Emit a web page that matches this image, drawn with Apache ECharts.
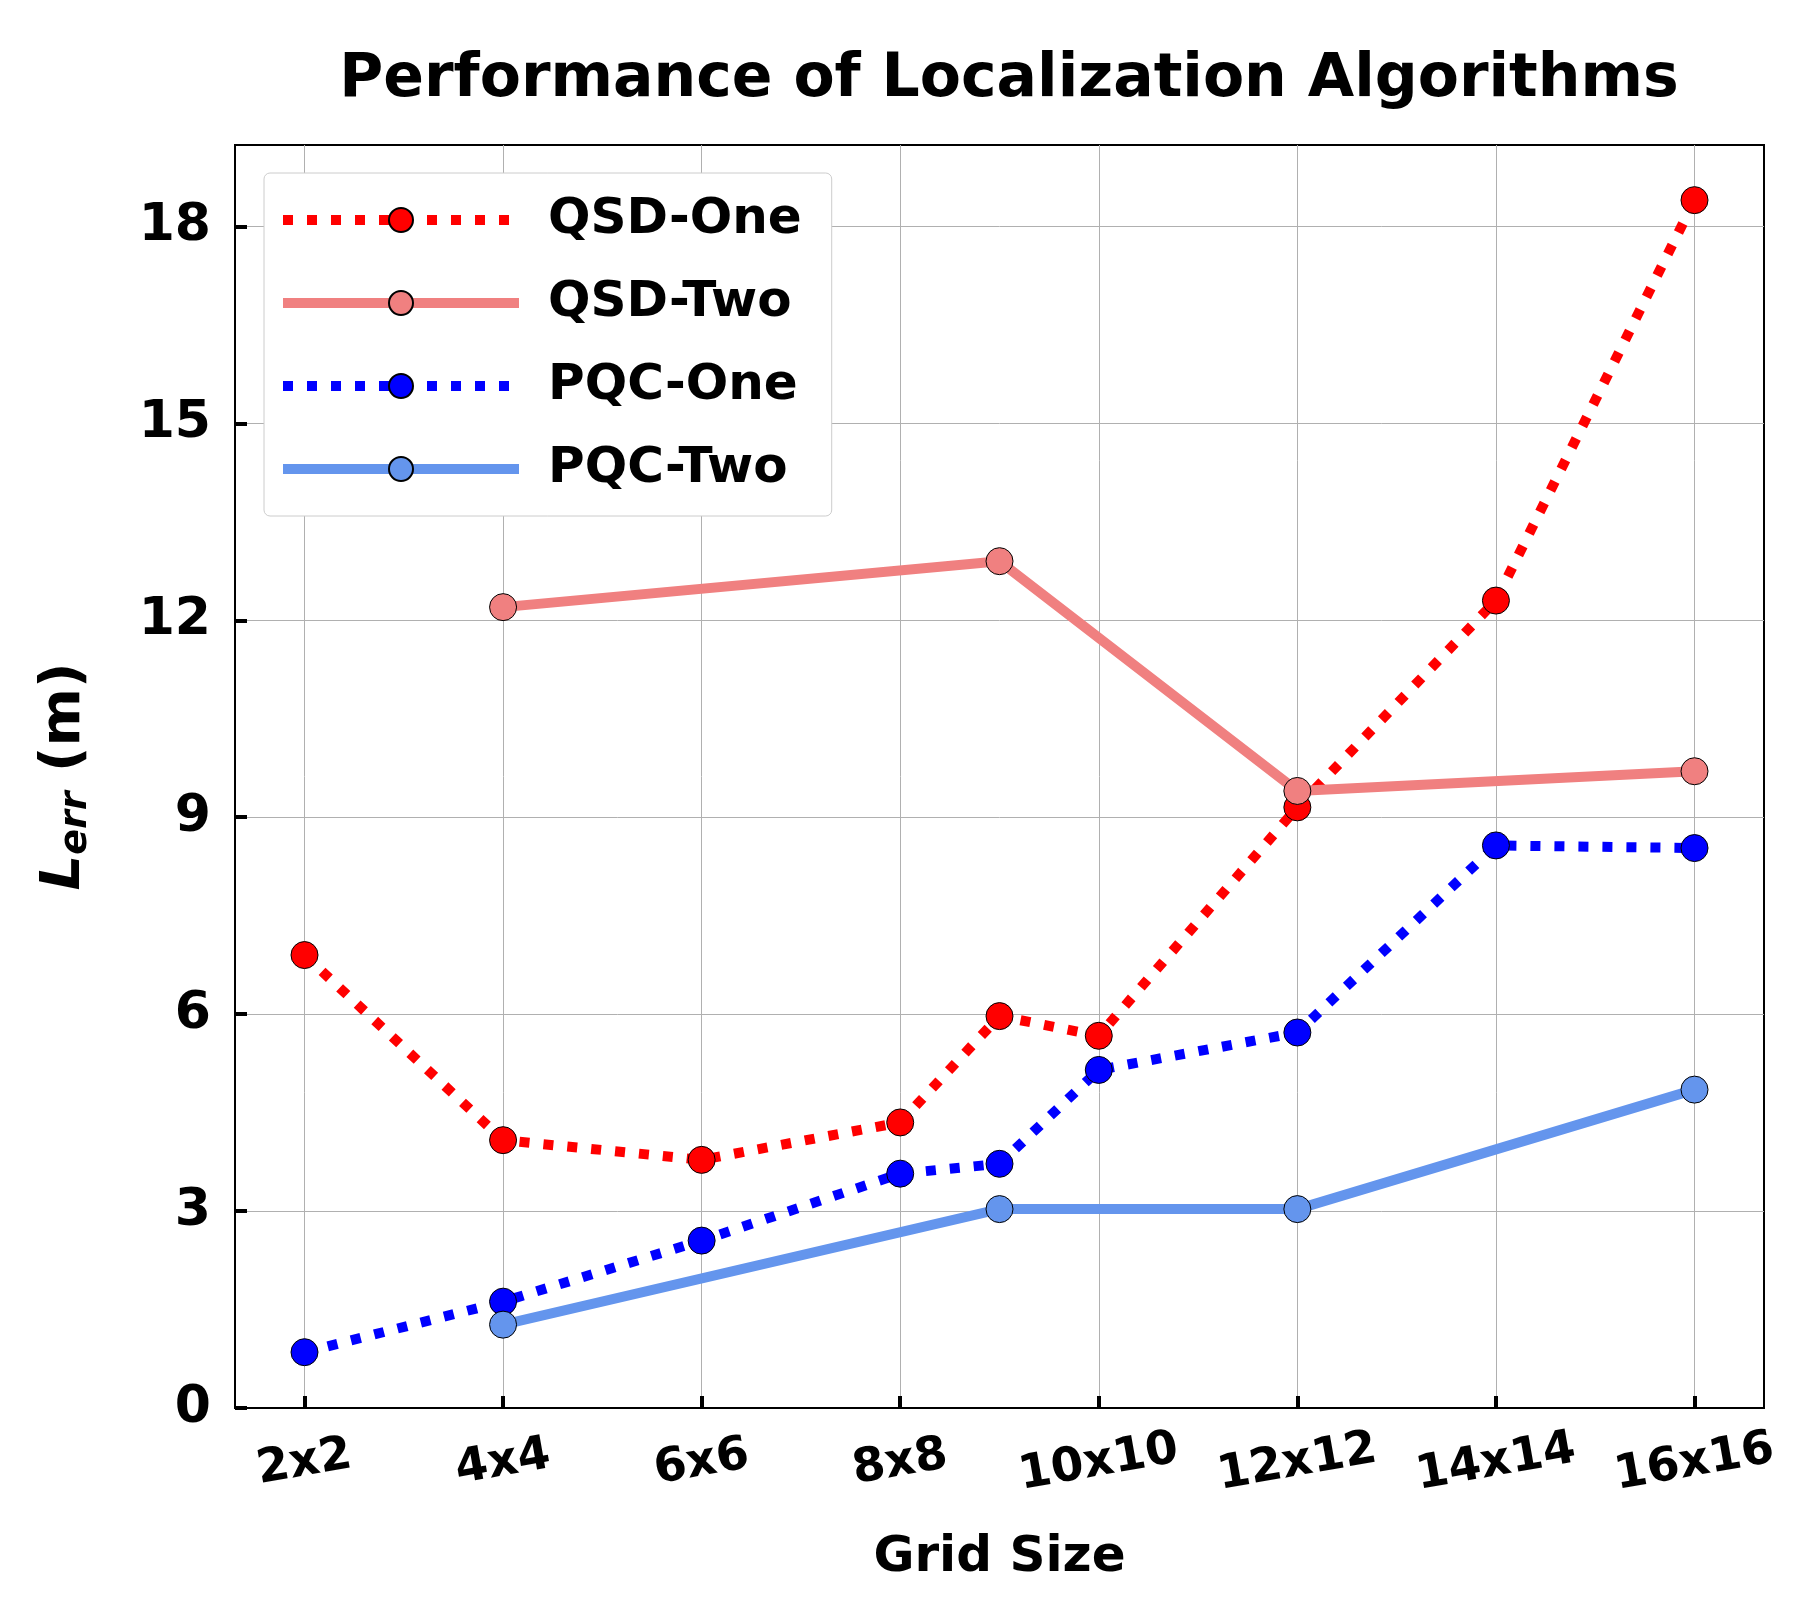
<!DOCTYPE html>
<html>
<head>
<meta charset="utf-8">
<script src="https://cdn.jsdelivr.net/npm/echarts@6/dist/echarts.min.js"></script>
<style>html,body{margin:0;background:#fff}#main{width:1800px;height:1600px}</style>
</head>
<body>
<div id="main"></div>
<script>
var gridSizes = [2, 4, 6, 8, 10, 12, 14, 16]
var qsdOneX = [2, 4, 6, 8, 9, 10, 12, 14, 16]
var qsdOneY = [6.9, 4.08, 3.78, 4.35, 5.97, 5.67, 9.15, 12.3, 18.4]
var qsdTwoX = [4, 9, 12, 16]
var qsdTwoY = [12.2, 12.9, 9.4, 9.7]
var pqcOneX = [2, 4, 6, 8, 9, 10, 12, 14, 16]
var pqcOneY = [0.85, 1.62, 2.55, 3.57, 3.72, 5.15, 5.72, 8.57, 8.53]
var pqcTwoX = [4, 9, 12, 16]
var pqcTwoY = [1.27, 3.03, 3.03, 4.85]
var yTicks = [0, 3, 6, 9, 12, 15, 18]

function pairs(xs, ys) { return xs.map(function (x, i) { return [x, ys[i]] }) }

var dotted = [10, 14]
function mk(name, xs, ys, color, solid) {
    return {
        name: name, type: 'line', data: pairs(xs, ys),
        symbol: 'circle', symbolSize: 27,
        lineStyle: { color: color, width: 10, type: solid ? 'solid' : dotted },
        itemStyle: { color: color, borderColor: '#000', borderWidth: 1 },
        z: 3
    }
}

var myChart = echarts.init(document.getElementById('main'))
var font = 'DejaVu Sans'
var option = {
    animation: false,
    title: {
        text: 'Performance of Localization Algorithms', left: 1004, top: 45, textAlign: 'center',
        textStyle: { fontFamily: font, fontWeight: 'bold', fontSize: 60, color: '#000' }
    },
    legend: {
        left: 264, top: 173, orient: 'vertical',
        padding: [22, 30, 22, 14], itemGap: 33,
        itemWidth: 236, itemHeight: 30,
        backgroundColor: '#fff', borderColor: '#ccc', borderWidth: 1, borderRadius: 6,
        textStyle: { fontFamily: font, fontWeight: 'bold', fontSize: 50, color: '#000', padding: [0, 0, 0, 24] },
        data: [
            { name: 'QSD-One', lineStyle: { width: 10, type: dotted } },
            { name: 'QSD-Two', lineStyle: { width: 10 } },
            { name: 'PQC-One', lineStyle: { width: 10, type: dotted } },
            { name: 'PQC-Two', lineStyle: { width: 10 } }
        ]
    },
    grid: { left: 235, right: 36, top: 145, bottom: 192, show: true, borderColor: '#000', borderWidth: 2 },
    xAxis: {
        type: 'value', min: 1.3, max: 16.7,
        name: 'Grid Size', nameLocation: 'middle', nameGap: 125,
        nameTextStyle: { fontFamily: font, fontWeight: 'bold', fontSize: 50, color: '#000' },
        axisLine: { lineStyle: { color: '#000', width: 2 } },
        axisTick: { inside: true, length: 12, customValues: gridSizes, lineStyle: { color: '#000', width: 4 } },
        axisLabel: {
            customValues: gridSizes, rotate: 10, margin: 55, align: 'center', verticalAlign: 'middle',
            formatter: function (v) { return v + 'x' + v },
            fontFamily: font, fontWeight: 'bold', fontSize: 47, color: '#000'
        },
        splitLine: { show: true, lineStyle: { color: '#b0b0b0', width: 1 } }
    },
    yAxis: {
        type: 'value', min: 0, max: 19.24,
        name: '{i|L}{s|err}{n| (m)}', nameLocation: 'middle', nameGap: 140, nameRotate: 90,
        nameTextStyle: {
            rich: {
                i: { fontFamily: font, fontWeight: 'bold', fontStyle: 'italic', fontSize: 56, color: '#000' },
                s: { fontFamily: font, fontWeight: 'bold', fontStyle: 'italic', fontSize: 38, color: '#000', verticalAlign: 'bottom', padding: [24, 0, 0, 0] },
                n: { fontFamily: font, fontWeight: 'bold', fontSize: 56, color: '#000' }
            }
        },
        axisLine: { show: true, lineStyle: { color: '#000', width: 2 } },
        axisTick: { inside: true, length: 12, customValues: yTicks, lineStyle: { color: '#000', width: 4 } },
        axisLabel: { customValues: yTicks, margin: 24, fontFamily: font, fontWeight: 'bold', fontSize: 52, color: '#000' },
        splitLine: { show: true, lineStyle: { color: '#b0b0b0', width: 1 } }
    },
    series: [
        mk('QSD-One', qsdOneX, qsdOneY, '#ff0000', false),
        mk('QSD-Two', qsdTwoX, qsdTwoY, '#f08080', true),
        mk('PQC-One', pqcOneX, pqcOneY, '#0000ff', false),
        mk('PQC-Two', pqcTwoX, pqcTwoY, '#6495ed', true)
    ]
}
myChart.setOption(option)
</script>
</body>
</html>
